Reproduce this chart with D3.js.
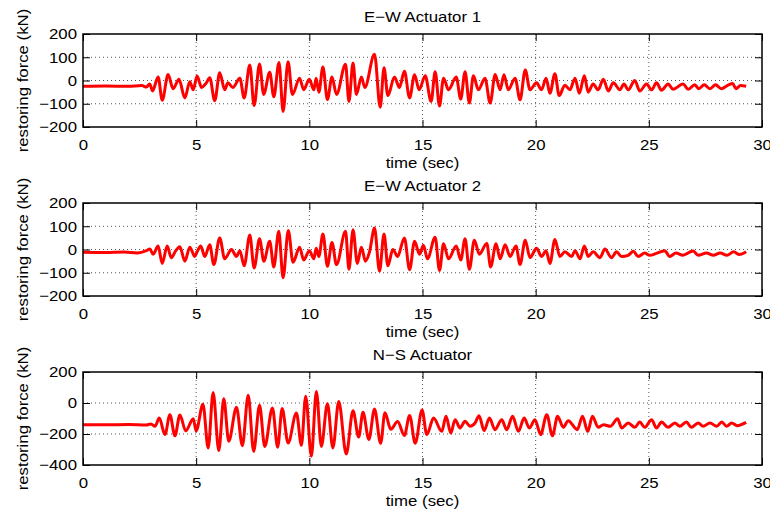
<!DOCTYPE html>
<html>
<head>
<meta charset="utf-8">
<script src="https://d3js.org/d3.v7.min.js"></script>
<style>
  html, body { margin: 0; padding: 0; background: #fff; }
  svg { display: block; }
</style>
</head>
<body>
<div id="chart"></div>
<script>
var timeTicks = [0, 5, 10, 15, 20, 25, 30];
var ewForceTicks = [-200, -100, 0, 100, 200];
var nsForceTicks = [-400, -200, 0, 200];
var panelTitles = ["E\u2212W Actuator 1", "E\u2212W Actuator 2", "N\u2212S Actuator"];
var xLabel = "time (sec)";
var yLabel = "restoring force (kN)";

// peaks and troughs, sec / kN
var ew1Time = [0, 1.0, 2.0, 2.6, 2.8, 2.95, 3.07, 3.32, 3.5, 3.76, 3.98, 4.24, 4.5, 4.72, 4.87, 5.04, 5.24, 5.45, 5.6, 5.82,
  6.04, 6.26, 6.4, 6.62, 6.93, 7.12, 7.37, 7.56, 7.8, 7.98, 8.25, 8.43, 8.66, 8.84, 9.06, 9.25, 9.57, 9.75, 10.0, 10.2,
  10.3, 10.42, 10.6, 10.8, 11.0, 11.2, 11.6, 11.75, 11.93, 12.08, 12.3, 12.45, 12.88, 13.13, 13.3, 13.47, 13.76, 13.98, 14.2, 14.43,
  14.65, 14.85, 15.12, 15.38, 15.56, 15.75, 15.93, 16.15, 16.49, 16.69, 16.88, 17.07, 17.25, 17.47, 17.76, 17.99, 18.21, 18.43, 18.6, 18.79,
  19.09, 19.31, 19.54, 19.75, 20.04, 20.26, 20.46, 20.63, 20.85, 21.04, 21.29, 21.51, 21.74, 21.93, 22.15, 22.32, 22.54, 22.76, 22.99, 23.21,
  23.43, 23.72, 23.9, 24.09, 24.38, 24.6, 24.9, 25.12, 25.34, 25.56, 25.85, 26.07, 26.51, 26.74, 27.03, 27.2, 27.45, 27.7, 27.95, 28.2,
  28.5, 28.7, 28.85, 29.05, 29.3];
var ew1Force = [-25, -24, -25, -22, -28, -15, -45, 15, -85, 26, -35, 5, -75, -5, -40, 19, -30, -10, 12, -87,
  33, -40, -10, -30, 10, -75, 67, -108, 71, -60, 35, -70, 77, -133, 81, -60, 10, -40, 5, -40,
  10, -50, 58, -82, 15, -60, 70, -90, 75, -60, 15, -30, 113, -115, 55, -65, 15, -30, 40, -75,
  25, -40, 20, -90, 38, -110, 10, -40, 15, -80, 38, -97, 20, -40, 10, -97, 26, -40, 25, -40,
  10, -83, 45, -40, -10, -40, 10, -55, 29, -65, -20, -40, 10, -55, 20, -50, -15, -40, 5, -45,
  -10, -40, -15, -40, 0, -45, -15, -40, -10, -42, -15, -38, -15, -38, -18, -35, -18, -35, -18, -35,
  -20, -13, -35, -22, -25];

var ew2Time = [0, 1.0, 1.8, 2.4, 2.8, 2.95, 3.1, 3.32, 3.5, 3.72, 3.9, 4.1, 4.28, 4.5, 4.72, 4.94, 5.04, 5.2, 5.38, 5.6,
  5.78, 6.04, 6.26, 6.56, 6.78, 6.93, 7.12, 7.37, 7.56, 7.8, 7.99, 8.25, 8.43, 8.65, 8.84, 9.07, 9.28, 9.57, 9.75, 10.0,
  10.2, 10.3, 10.42, 10.6, 10.8, 11.0, 11.2, 11.6, 11.75, 11.93, 12.12, 12.3, 12.48, 12.66, 12.88, 13.1, 13.3, 13.47, 13.69, 13.9,
  14.2, 14.43, 14.65, 14.87, 15.04, 15.22, 15.56, 15.75, 15.93, 16.15, 16.49, 16.69, 16.88, 17.07, 17.29, 17.51, 17.84, 18.01, 18.25, 18.43,
  18.65, 18.87, 19.13, 19.31, 19.54, 19.75, 20.04, 20.26, 20.46, 20.63, 20.85, 21.07, 21.29, 21.59, 21.74, 21.96, 22.15, 22.32, 22.54, 22.84,
  23.06, 23.35, 23.57, 23.79, 24.09, 24.31, 24.53, 24.82, 25.04, 25.3, 25.7, 25.92, 26.2, 26.5, 26.96, 27.18, 27.55, 27.85, 28.15, 28.45,
  28.75, 29.0, 29.3];
var ew2Force = [-12, -13, -11, -15, -5, 2, -20, 15, -60, 15, -35, -5, 12, -50, 10, -30, -10, 15, -30, 20,
  -65, 50, -40, 0, -30, -5, -70, 62, -80, 46, -50, 35, -75, 78, -122, 82, -55, 10, -45, -5,
  -40, 5, -30, 67, -72, 30, -65, 78, -85, 85, -60, 10, -50, -10, 92, -93, 67, -70, 0, -30,
  50, -87, 35, -20, 18, -40, 53, -90, 25, -40, 15, -45, 46, -85, 40, -20, 26, -75, 25, -40,
  20, -30, 15, -65, 40, -35, 5, -30, -5, -60, 43, -30, -10, -30, -5, -40, 15, -30, -10, -35,
  2, -35, -10, -30, -25, -8, -30, -15, -25, -18, -5, -30, -15, -25, -6, -25, -15, -25, -15, -25,
  -10, -22, -10];

var nsTime = [0, 1.0, 2.0, 2.8, 3.0, 3.18, 3.37, 3.62, 3.84, 4.06, 4.28, 4.54, 4.87, 5.0, 5.3, 5.53, 5.75, 6.0, 6.22, 6.44,
  6.78, 7.04, 7.3, 7.54, 7.8, 8.03, 8.37, 8.6, 8.8, 9.06, 9.43, 9.65, 9.84, 10.09, 10.31, 10.53, 10.8, 11.04, 11.3, 11.63,
  11.93, 12.18, 12.37, 12.63, 12.88, 13.15, 13.34, 13.6, 13.9, 14.2, 14.43, 14.68, 14.98, 15.19, 15.49, 15.85, 16.04, 16.25, 16.44, 16.66,
  16.88, 17.1, 17.32, 17.5, 17.72, 17.96, 18.2, 18.5, 18.72, 18.98, 19.24, 19.49, 19.72, 19.97, 20.22, 20.49, 20.74, 20.97, 21.22, 21.44,
  21.84, 22.07, 22.3, 22.51, 22.76, 23.0, 23.3, 23.62, 23.8, 24.09, 24.38, 24.6, 24.82, 25.12, 25.34, 25.56, 25.85, 26.15, 26.37, 26.66,
  26.88, 27.18, 27.4, 27.7, 28.0, 28.22, 28.44, 28.66, 28.9, 29.3];
var nsForce = [-140, -141, -139, -142, -135, -150, -97, -204, -75, -212, -78, -180, -101, -180, -8, -290, 67, -307, 28, -247,
  -28, -275, 50, -312, -15, -280, -32, -285, -36, -258, -64, -273, 43, -344, 75, -280, -5, -290, 10, -329,
  -50, -220, -60, -235, -39, -260, -63, -170, -120, -210, -80, -260, -45, -204, -97, -183, -86, -194, -108, -161,
  -118, -150, -129, -82, -178, -97, -172, -108, -172, -86, -183, -97, -161, -108, -204, -75, -211, -86, -157, -114,
  -172, -86, -183, -86, -157, -140, -150, -101, -161, -129, -157, -123, -157, -108, -161, -123, -157, -129, -150, -123,
  -157, -129, -150, -129, -150, -123, -150, -129, -146, -125];

(function () {
  "use strict";

  var W = 770, H = 510;
  var left = 83, right = 762, plotH = 93;
  var panelTop = [34, 203, 372];
  var tickLen = 7;
  var stretch = 1.12;
  var fontFamily = "'Liberation Sans', Arial, Helvetica, sans-serif";
  var fontSize = 15;

  var panels = [
    { title: panelTitles[0], time: ew1Time, force: ew1Force, domain: [-200, 200], ticks: ewForceTicks },
    { title: panelTitles[1], time: ew2Time, force: ew2Force, domain: [-200, 200], ticks: ewForceTicks },
    { title: panelTitles[2], time: nsTime, force: nsForce, domain: [-400, 200], ticks: nsForceTicks }
  ];

  var svg = d3.select("#chart").append("svg")
    .attr("width", W)
    .attr("height", H)
    .attr("viewBox", [0, 0, W, H]);

  svg.append("rect").attr("width", W).attr("height", H).attr("fill", "#fff");

  var x = d3.scaleLinear().domain([0, 30]).range([left, right]);
  var cx = (left + right) / 2;

  function styleAxis(sel) {
    sel.select(".domain").remove();
    sel.attr("font-family", fontFamily).attr("font-size", fontSize).attr("color", "#000");
    sel.selectAll(".tick line").attr("stroke-width", 1);
  }

  panels.forEach(function (p, k) {
    var g = svg.append("g").attr("transform", "translate(0," + panelTop[k] + ")");
    var y = d3.scaleLinear().domain(p.domain).range([plotH, 0]);

    // dotted grid
    g.append("g").selectAll("line")
      .data(timeTicks.slice(1, -1))
      .join("line")
      .attr("x1", x).attr("x2", x)
      .attr("y1", 0).attr("y2", plotH)
      .attr("stroke", "#555")
      .attr("stroke-dasharray", "1,3");

    g.append("g").selectAll("line")
      .data(p.ticks.slice(1, -1))
      .join("line")
      .attr("x1", left).attr("x2", right)
      .attr("y1", y).attr("y2", y)
      .attr("stroke", "#555")
      .attr("stroke-dasharray", "1,3");

    var line = d3.line()
      .curve(d3.curveMonotoneX)
      .x(function (i) { return x(p.time[i]); })
      .y(function (i) { return y(p.force[i]); });

    g.append("path")
      .datum(d3.range(p.time.length))
      .attr("d", line)
      .attr("fill", "none")
      .attr("stroke", "#ff0000")
      .attr("stroke-width", 3)
      .attr("stroke-linejoin", "round");

    var bottom = g.append("g")
      .attr("transform", "translate(0," + plotH + ")")
      .call(d3.axisBottom(x).tickValues(timeTicks).tickSize(-tickLen).tickPadding(12))
      .call(styleAxis);
    bottom.selectAll("text").attr("transform", "scale(" + stretch + ",1)");

    g.append("g")
      .call(d3.axisTop(x).tickValues(timeTicks).tickSize(-tickLen).tickFormat(""))
      .call(styleAxis);

    var leftAx = g.append("g")
      .attr("transform", "translate(" + left + ",0)")
      .call(d3.axisLeft(y).tickValues(p.ticks).tickSize(-tickLen).tickPadding(6 / stretch))
      .call(styleAxis);
    leftAx.selectAll("text").attr("transform", "scale(" + stretch + ",1)");

    g.append("g")
      .attr("transform", "translate(" + right + ",0)")
      .call(d3.axisRight(y).tickValues(p.ticks).tickSize(-tickLen).tickFormat(""))
      .call(styleAxis);

    g.append("rect")
      .attr("x", left).attr("y", 0)
      .attr("width", right - left).attr("height", plotH)
      .attr("fill", "none")
      .attr("stroke", "#000")
      .attr("stroke-width", 1.5);

    var textAttrs = function (t) {
      t.attr("font-family", fontFamily).attr("font-size", fontSize)
        .attr("fill", "#000").attr("text-anchor", "middle");
    };

    g.append("text")
      .attr("transform", "translate(" + cx + ",-12.5) scale(" + stretch + ",1)")
      .text(p.title)
      .call(textAttrs);

    g.append("text")
      .attr("transform", "translate(" + cx + "," + (plotH + 41) + ") scale(" + stretch + ",1)")
      .text(xLabel)
      .call(textAttrs);

    g.append("text")
      .attr("transform", "translate(28," + (plotH / 2) + ") rotate(-90) scale(" + stretch + ",1)")
      .text(yLabel)
      .call(textAttrs);
  });
})();
</script>
</body>
</html>
